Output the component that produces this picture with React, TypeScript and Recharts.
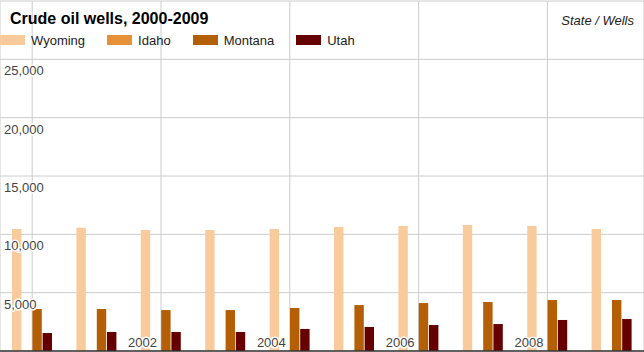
import { Bar, BarChart, CartesianGrid, XAxis, YAxis } from 'recharts';

const years = ['2000', '2001', '2002', '2003', '2004', '2005', '2006', '2007', '2008', '2009'];
const wyoming = [10460, 10570, 10370, 10370, 10460, 10630, 10710, 10800, 10710, 10460];
const idaho = [0, 0, 0, 0, 0, 0, 0, 0, 0, 0];
const montana = [3600, 3600, 3510, 3510, 3690, 3940, 4110, 4200, 4370, 4370];
const utah = [1540, 1630, 1630, 1630, 1890, 2060, 2230, 2310, 2660, 2740];
const yTicks = [0, 5000, 10000, 15000, 20000, 25000, 30000];

const series = [
  { key: 'wyoming', name: 'Wyoming', color: '#f9cb9c', values: wyoming },
  { key: 'idaho', name: 'Idaho', color: '#e69138', values: idaho },
  { key: 'montana', name: 'Montana', color: '#b45f06', values: montana },
  { key: 'utah', name: 'Utah', color: '#660000', values: utah },
];

const data = years.map((year, i) => {
  const row: Record<string, string | number> = { year };
  series.forEach((s) => (row[s.key] = s.values[i]));
  return row;
});

const FONT = '"Liberation Sans", Arial, sans-serif';

const YTick = ({ x, y, payload }: any) => {
  if (payload.value === 0 || payload.value === 30000) return null;
  return (
    <text
      x={x + 4}
      y={y + 16}
      textAnchor="start"
      fontSize={13}
      fontFamily={FONT}
      fill="#444"
      stroke="#fff"
      strokeWidth={3}
      paintOrder="stroke"
    >
      {payload.value.toLocaleString('en-US')}
    </text>
  );
};

const XTick = ({ x, y, payload, index }: any) => {
  if (index === 0) return null;
  return (
    <text
      x={x - 4}
      y={y - 4.5}
      textAnchor="end"
      fontSize={13}
      fontFamily={FONT}
      fill="#444"
      stroke="#fff"
      strokeWidth={3}
      paintOrder="stroke"
    >
      {payload.value}
    </text>
  );
};

export default function App() {
  return (
    <div style={{ position: 'relative', width: 644, height: 352, fontFamily: FONT }}>
      <style>{`body{margin:0}`}</style>
      <BarChart
        width={644}
        height={352}
        data={data}
        margin={{ top: 1, right: 0, bottom: 0, left: -1 }}
        barSize={9.4}
        barGap={0.8}
      >
        <CartesianGrid stroke="#ccc" />
        <XAxis
          dataKey="year"
          interval={1}
          height={1}
          tickSize={0}
          tickMargin={0}
          tickLine={false}
          axisLine={{ stroke: '#333', strokeWidth: 1.5 }}
          tick={(p: any) => <XTick {...p} />}
        />
        <YAxis
          domain={[0, 30000]}
          ticks={yTicks}
          width={1}
          tickSize={0}
          tickMargin={0}
          tickLine={false}
          axisLine={false}
          tick={(p: any) => <YTick {...p} />}
        />
        {series.map((s) => (
          <Bar key={s.key} dataKey={s.key} name={s.name} fill={s.color} isAnimationActive={false} />
        ))}
      </BarChart>

      <svg width={644} height={352} style={{ position: 'absolute', left: 0, top: 0, pointerEvents: 'none' }}>
        <text x={10} y={24} fontSize={16} fontWeight="bold" fontFamily={FONT} fill="#000">
          Crude oil wells, 2000-2009
        </text>
        <text x={634} y={24.5} fontSize={13} fontStyle="italic" fontFamily={FONT} fill="#222" textAnchor="end">
          State / Wells
        </text>
      </svg>

      <div style={{ position: 'absolute', left: 0, top: 35, display: 'flex', alignItems: 'flex-start', height: 10 }}>
        {series.map((s) => (
          <div key={s.key} style={{ display: 'flex', alignItems: 'flex-start', marginRight: 22 }}>
            <div style={{ width: 25, height: 10, background: s.color, marginRight: 6 }} />
            <span style={{ fontSize: 13, lineHeight: '10px', color: '#222', whiteSpace: 'nowrap', position: 'relative', top: 0.5 }}>
              {s.name}
            </span>
          </div>
        ))}
      </div>
    </div>
  );
}
